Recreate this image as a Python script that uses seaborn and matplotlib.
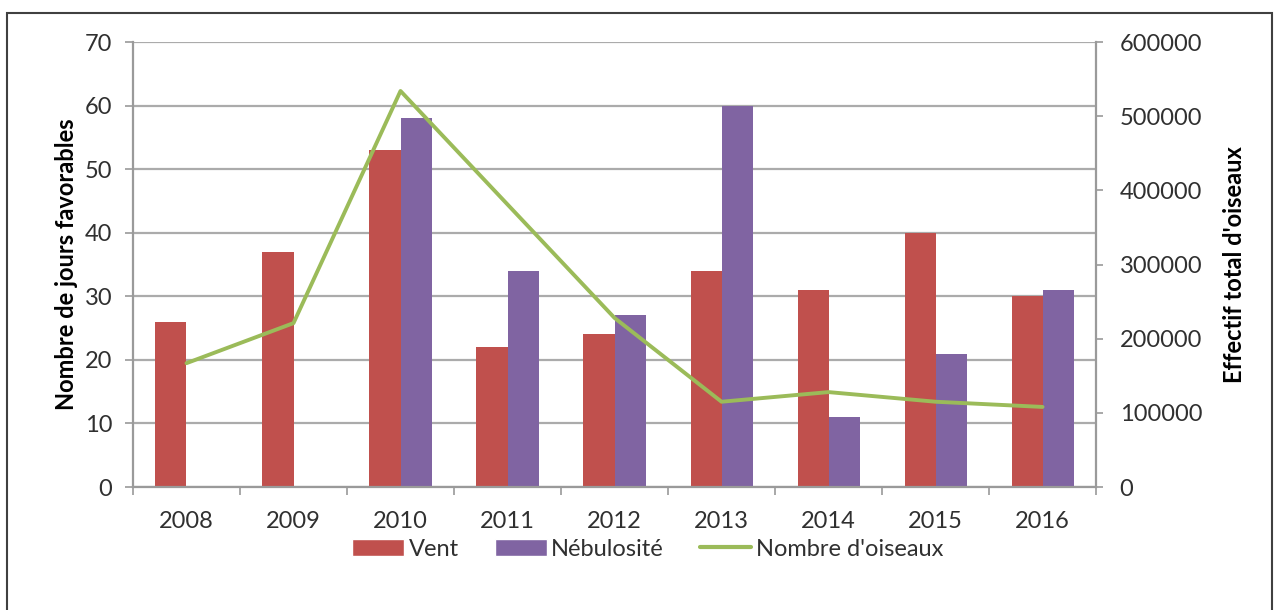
import numpy as np
import pandas as pd
import seaborn as sns
import matplotlib.pyplot as plt
from matplotlib.lines import Line2D
from matplotlib.patches import Patch, Rectangle

years = ["2008", "2009", "2010", "2011", "2012", "2013", "2014", "2015", "2016"]
vent = [26, 37, 53, 22, 24, 34, 31, 40, 30]
nebulosite = [np.nan, np.nan, 58, 34, 27, 60, 11, 21, 31]
oiseaux = [167000, 221000, 534000, 381000, 228000, 115000, 128000, 115000, 108000]

RED = "#C0504D"
PURPLE = "#8064A2"
GREEN = "#9BBB59"
GRID = "#ABABAB"
AXIS = "#9A9A9A"
TXT = "#303030"


def main():
    sns.set_style("white")
    plt.rcParams["font.family"] = ["Lato", "DejaVu Sans"]

    df = pd.DataFrame({
        "annee": years * 2,
        "jours": vent + nebulosite,
        "type": ["Vent"] * len(years) + ["Nébulosité"] * len(years),
    })

    fig = plt.figure(figsize=(12.8, 6.1), dpi=100)
    ax = fig.add_axes([0.1039, 0.2016, 0.7524, 0.7295])

    sns.barplot(data=df, x="annee", y="jours", hue="type", order=years,
                hue_order=["Vent", "Nébulosité"], palette=[RED, PURPLE],
                width=0.58, saturation=1, linewidth=0, ax=ax, legend=False)

    ax.set_ylim(0, 70)
    ax.set_yticks(range(0, 71, 10))
    ax.set_xlim(-0.5, len(years) - 0.5)
    ax.yaxis.grid(True, color=GRID, linewidth=1.6)
    ax.set_axisbelow(True)
    ax.set_xlabel("")
    ax.set_ylabel("Nombre de jours favorables", fontsize=17, fontweight="bold",
                  color="black", labelpad=5)
    for s in ["top", "right"]:
        ax.spines[s].set_visible(False)
    for s in ["left", "bottom"]:
        ax.spines[s].set_color(AXIS)
        ax.spines[s].set_linewidth(1.6)
    ax.tick_params(axis="y", length=6, width=1.2, color=AXIS, pad=9,
                   labelsize=17, labelcolor=TXT, left=True)
    ax.tick_params(axis="x", which="major", length=0, pad=17, labelsize=17,
                   labelcolor=TXT)
    ax.set_xticks(np.arange(-0.5, len(years), 1), minor=True)
    ax.tick_params(axis="x", which="minor", length=6, width=1.2, color=AXIS,
                   bottom=True)

    ax2 = ax.twinx()
    sns.lineplot(x=np.arange(len(years)), y=oiseaux, color=GREEN, linewidth=2.8,
                 ax=ax2)
    ax2.set_ylim(0, 600000)
    ax2.set_yticks(range(0, 600001, 100000))
    ax2.set_ylabel("Effectif total d'oiseaux", fontsize=17, fontweight="bold",
                   color="black", rotation=90, labelpad=15)
    for s in ["top", "left", "bottom"]:
        ax2.spines[s].set_visible(False)
    ax2.spines["right"].set_color(AXIS)
    ax2.spines["right"].set_linewidth(1.6)
    ax2.tick_params(axis="y", length=5, width=1.2, color=AXIS, pad=12,
                    labelsize=17, labelcolor=TXT, right=True)

    handles = [
        Patch(facecolor=RED, label="Vent"),
        Patch(facecolor=PURPLE, label="Nébulosité"),
        Line2D([], [], color=GREEN, linewidth=3, label="Nombre d'oiseaux"),
    ]
    leg = fig.legend(handles=handles, loc="center", bbox_to_anchor=(648 / 1280, 0.100),
                     ncol=3, frameon=False, fontsize=17, handlelength=2.2,
                     handleheight=0.7, handletextpad=0.2, columnspacing=1.5)
    for t in leg.get_texts():
        t.set_color(TXT)

    fig.patches.append(Rectangle((7 / 1280, -0.05), 1265 / 1280, 1.05 - 13 / 610,
                                 transform=fig.transFigure, fill=False,
                                 edgecolor="#404040", linewidth=1.5))

    fig.savefig("out.png", dpi=100)


if __name__ == "__main__":
    main()
